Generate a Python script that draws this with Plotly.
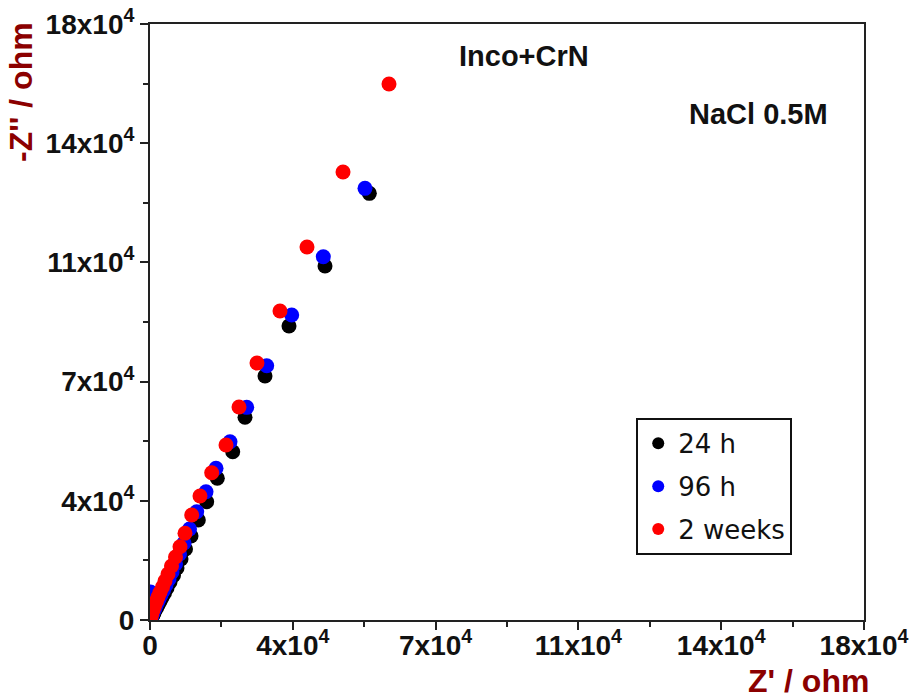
import plotly.graph_objects as go

# Nyquist data, Inco+CrN in NaCl 0.5M (ohm)
zr_24h = [55290, 44120, 35040, 28990, 23950, 20850, 16970, 14290, 12180, 10340,
          8950, 7820, 6810, 5920, 5040, 4290, 3660, 3030, 2520, 2020,
          1640, 1260, 1010, 760, 500, 380]
zi_24h = [128860, 106910, 88790, 73690, 61220, 50830, 42790, 35730, 30200, 25370,
          21440, 18420, 15700, 13440, 11480, 9660, 8150, 6800, 5590, 4530,
          3620, 2870, 2110, 1510, 1060, 600]

zr_96h = [54200, 43690, 35720, 29420, 24380, 20170, 16640, 14120, 11770, 9960,
          8570, 7440, 6430, 5550, 4790, 4030, 3400, 2770, 2270, 1890,
          1510, 1260, 1010, 760, 500, 380, 250, 120]
zi_96h = [130370, 109720, 92110, 76800, 64230, 53850, 45810, 38750, 32710, 27480,
          23250, 19930, 16910, 14500, 12380, 10570, 8910, 7550, 6340, 5290,
          4380, 3620, 2870, 2110, 1510, 1060, 600, 8450]

zr_2w = [60250, 48660, 39580, 32770, 26970, 22440, 19160, 15550, 12600, 10510,
         8820, 7560, 6430, 5420, 4540, 3780, 3150, 2520, 2020, 1640,
         1260, 1010, 760, 500, 380, 250, 180, 130]
zi_2w = [161870, 135300, 112650, 93320, 77610, 64330, 52850, 44480, 37450, 31710,
         26180, 22140, 19030, 16310, 13890, 11780, 9970, 8300, 6950, 5740,
         4680, 3780, 3020, 2270, 1660, 1210, 760, 450]

tick_vals = [0, 36000, 72000, 108000, 144000, 180000]
tick_text = ["0", "4x10<sup>4</sup>", "7x10<sup>4</sup>", "11x10<sup>4</sup>",
             "14x10<sup>4</sup>", "18x10<sup>4</sup>"]
minor_vals = [18000, 54000, 90000, 126000, 162000]

series = [
    ("24 h", zr_24h, zi_24h, "#000000"),
    ("96 h", zr_96h, zi_96h, "#0000FF"),
    ("2 weeks", zr_2w, zi_2w, "#FF0000"),
]

fig = go.Figure()
for name, xs, ys, col in series:
    fig.add_trace(go.Scatter(
        x=xs, y=ys, mode="markers", name=name, legendgroup=name,
        marker=dict(symbol="circle", size=15, color=col, line=dict(width=0)),
    ))

axis_common = dict(
    range=[0, 180000],
    tickmode="array",
    tickvals=tick_vals,
    ticktext=tick_text,
    ticks="outside",
    ticklen=8,
    tickwidth=2,
    tickcolor="#222222",
    showline=True,
    linecolor="#222222",
    linewidth=2,
    mirror=True,
    showgrid=False,
    zeroline=False,
    automargin=False,
    tickfont=dict(family="Liberation Sans", size=28, color="#111111", weight="bold"),
    minor=dict(tickvals=minor_vals, ticks="outside", ticklen=5, tickwidth=2,
               tickcolor="#222222", showgrid=False),
)

fig.update_layout(
    width=916,
    height=698,
    margin=dict(l=150, r=52, t=24, b=78),
    paper_bgcolor="white",
    plot_bgcolor="white",
    xaxis=dict(axis_common, ticklabelstandoff=-9),
    yaxis=axis_common,
    showlegend=True,
    legend=dict(
        x=0.681, y=0.339, xanchor="left", yanchor="top",
        bordercolor="#111111", borderwidth=2, bgcolor="white",
        font=dict(family="DejaVu Sans", size=26, color="#111111"),
        traceorder="grouped", tracegroupgap=6,
        itemsizing="constant",
    ),
)

# plot labels and axis titles in paper coordinates
plot_w, plot_h = 714, 596
def px(xp, yp):
    return (xp - 150) / plot_w, (620 - yp) / plot_h

for text, (cx, cy) in [("Inco+CrN", (524, 56)), ("NaCl 0.5M", (758, 114))]:
    ax_, ay_ = px(cx, cy)
    fig.add_annotation(text=text, x=ax_, y=ay_, xref="paper", yref="paper",
                       showarrow=False, xanchor="center", yanchor="middle",
                       font=dict(family="Liberation Sans", size=29, color="#111111",
                                 weight="bold"))

tx, ty = px(808, 681)
fig.add_annotation(text="Z' / ohm", x=tx, y=ty, xref="paper", yref="paper",
                   showarrow=False, xanchor="center", yanchor="middle",
                   font=dict(family="Liberation Sans", size=32, color="#8B0000",
                             weight="bold"))
tx, ty = px(21, 92)
fig.add_annotation(text="-Z'' / ohm", x=tx, y=ty, xref="paper", yref="paper",
                   showarrow=False, textangle=-90,
                   xanchor="center", yanchor="middle",
                   font=dict(family="Liberation Sans", size=32, color="#8B0000",
                             weight="bold"))

fig.write_html("out.html")
